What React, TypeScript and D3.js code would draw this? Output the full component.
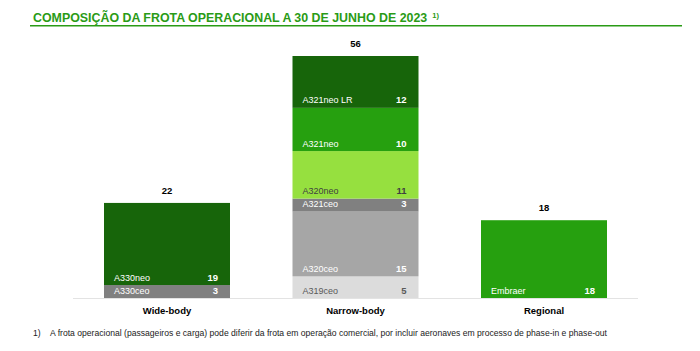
import React, { useEffect, useRef } from 'react';
import * as d3 from 'd3';

// categories and their stacked segments (bottom to top)
const categories = ['Wide-body', 'Narrow-body', 'Regional'];

const wideBodySegments = [
  { name: 'A330ceo', value: 3 },
  { name: 'A330neo', value: 19 },
];

const narrowBodySegments = [
  { name: 'A319ceo', value: 5 },
  { name: 'A320ceo', value: 15 },
  { name: 'A321ceo', value: 3 },
  { name: 'A320neo', value: 11 },
  { name: 'A321neo', value: 10 },
  { name: 'A321neo LR', value: 12 },
];

const regionalSegments = [{ name: 'Embraer', value: 18 }];

const segmentColors: Record<string, string> = {
  A330ceo: '#808080',
  A330neo: '#17650a',
  A319ceo: '#dcdcdc',
  A320ceo: '#a6a6a6',
  A321ceo: '#808080',
  A320neo: '#96e03f',
  A321neo: '#26a00f',
  'A321neo LR': '#17650a',
  Embraer: '#26a00f',
};

const darkText: Record<string, string> = {
  A319ceo: '#595959',
  A320neo: '#404040',
};

const title = 'COMPOSIÇÃO DA FROTA OPERACIONAL A 30 DE JUNHO DE 2023';
const footnote =
  'A frota operacional (passageiros e carga) pode diferir da frota em operação comercial, por incluir aeronaves em processo de phase-in e phase-out';

function App() {
  const svgRef = useRef<SVGSVGElement>(null);

  useEffect(() => {
    const width = 700;
    const height = 351;
    const svg = d3.select(svgRef.current).attr('width', width).attr('height', height);
    svg.selectAll('*').remove();

    const font = 'Arial, "Liberation Sans", sans-serif';
    const green = '#2a9b16';

    // title
    const t = svg
      .append('text')
      .attr('x', 33)
      .attr('y', 21.5)
      .attr('font-family', font)
      .attr('font-size', '12.4px')
      .attr('font-weight', 'bold')
      .attr('fill', green);
    t.append('tspan').text(title);
    t.append('tspan')
      .attr('dx', 5)
      .attr('dy', -4)
      .attr('font-size', '7.5px')
      .text('1)');

    svg
      .append('line')
      .attr('x1', 30)
      .attr('x2', 682)
      .attr('y1', 25.8)
      .attr('y2', 25.8)
      .attr('stroke', '#2a9b16')
      .attr('stroke-width', 1.5);

    const baseY = 298;
    const topY = 56;

    const data = [wideBodySegments, narrowBodySegments, regionalSegments];
    const totals = data.map(s => d3.sum(s, d => d.value));

    const x = d3.scaleBand().domain(categories).range([104, 607]).paddingInner(62.5 / 188.5).paddingOuter(0);
    const y = d3.scaleLinear().domain([0, d3.max(totals) as number]).range([baseY, topY]);

    // baseline
    svg
      .append('line')
      .attr('x1', 73)
      .attr('x2', 638)
      .attr('y1', baseY + 0.5)
      .attr('y2', baseY + 0.5)
      .attr('stroke', '#e3e3e3')
      .attr('stroke-width', 1.2);

    categories.forEach((cat, i) => {
      const segs = data[i];
      const x0 = x(cat) as number;
      const bw = x.bandwidth();
      let acc = 0;
      const g = svg.append('g');
      segs.forEach(s => {
        const y0 = y(acc);
        const y1 = y(acc + s.value);
        acc += s.value;
        g.append('rect')
          .attr('x', x0)
          .attr('y', y1)
          .attr('width', bw)
          .attr('height', y0 - y1)
          .attr('fill', segmentColors[s.name]);
        const tc = darkText[s.name] || '#ffffff';
        g.append('text')
          .attr('x', x0 + 10)
          .attr('y', y0 - 4.5)
          .attr('font-family', font)
          .attr('font-size', '9px')
          .attr('fill', tc)
          .text(s.name);
        g.append('text')
          .attr('x', x0 + bw - 12)
          .attr('y', y0 - 4.5)
          .attr('text-anchor', 'end')
          .attr('font-family', font)
          .attr('font-size', '9.5px')
          .attr('font-weight', 'bold')
          .attr('fill', tc)
          .text(s.value);
      });

      // total on top
      svg
        .append('text')
        .attr('x', x0 + bw / 2)
        .attr('y', y(totals[i]) - 9)
        .attr('text-anchor', 'middle')
        .attr('font-family', font)
        .attr('font-size', '9.5px')
        .attr('font-weight', 'bold')
        .attr('fill', '#000')
        .text(totals[i]);

      // category label
      svg
        .append('text')
        .attr('x', x0 + bw / 2)
        .attr('y', baseY + 16)
        .attr('text-anchor', 'middle')
        .attr('font-family', font)
        .attr('font-size', '9.5px')
        .attr('font-weight', 'bold')
        .attr('fill', '#000')
        .text(cat);
    });

    // footnote
    svg
      .append('text')
      .attr('x', 33)
      .attr('y', 336)
      .attr('font-family', font)
      .attr('font-size', '8.6px')
      .attr('fill', '#222')
      .text('1)');
    svg
      .append('text')
      .attr('x', 50)
      .attr('y', 336)
      .attr('font-family', font)
      .attr('font-size', '8.6px')
      .attr('fill', '#222')
      .text(footnote);
  }, []);

  return <svg ref={svgRef} style={{ display: 'block', position: 'absolute', left: 0, top: 0 }}></svg>;
}

export default App;
